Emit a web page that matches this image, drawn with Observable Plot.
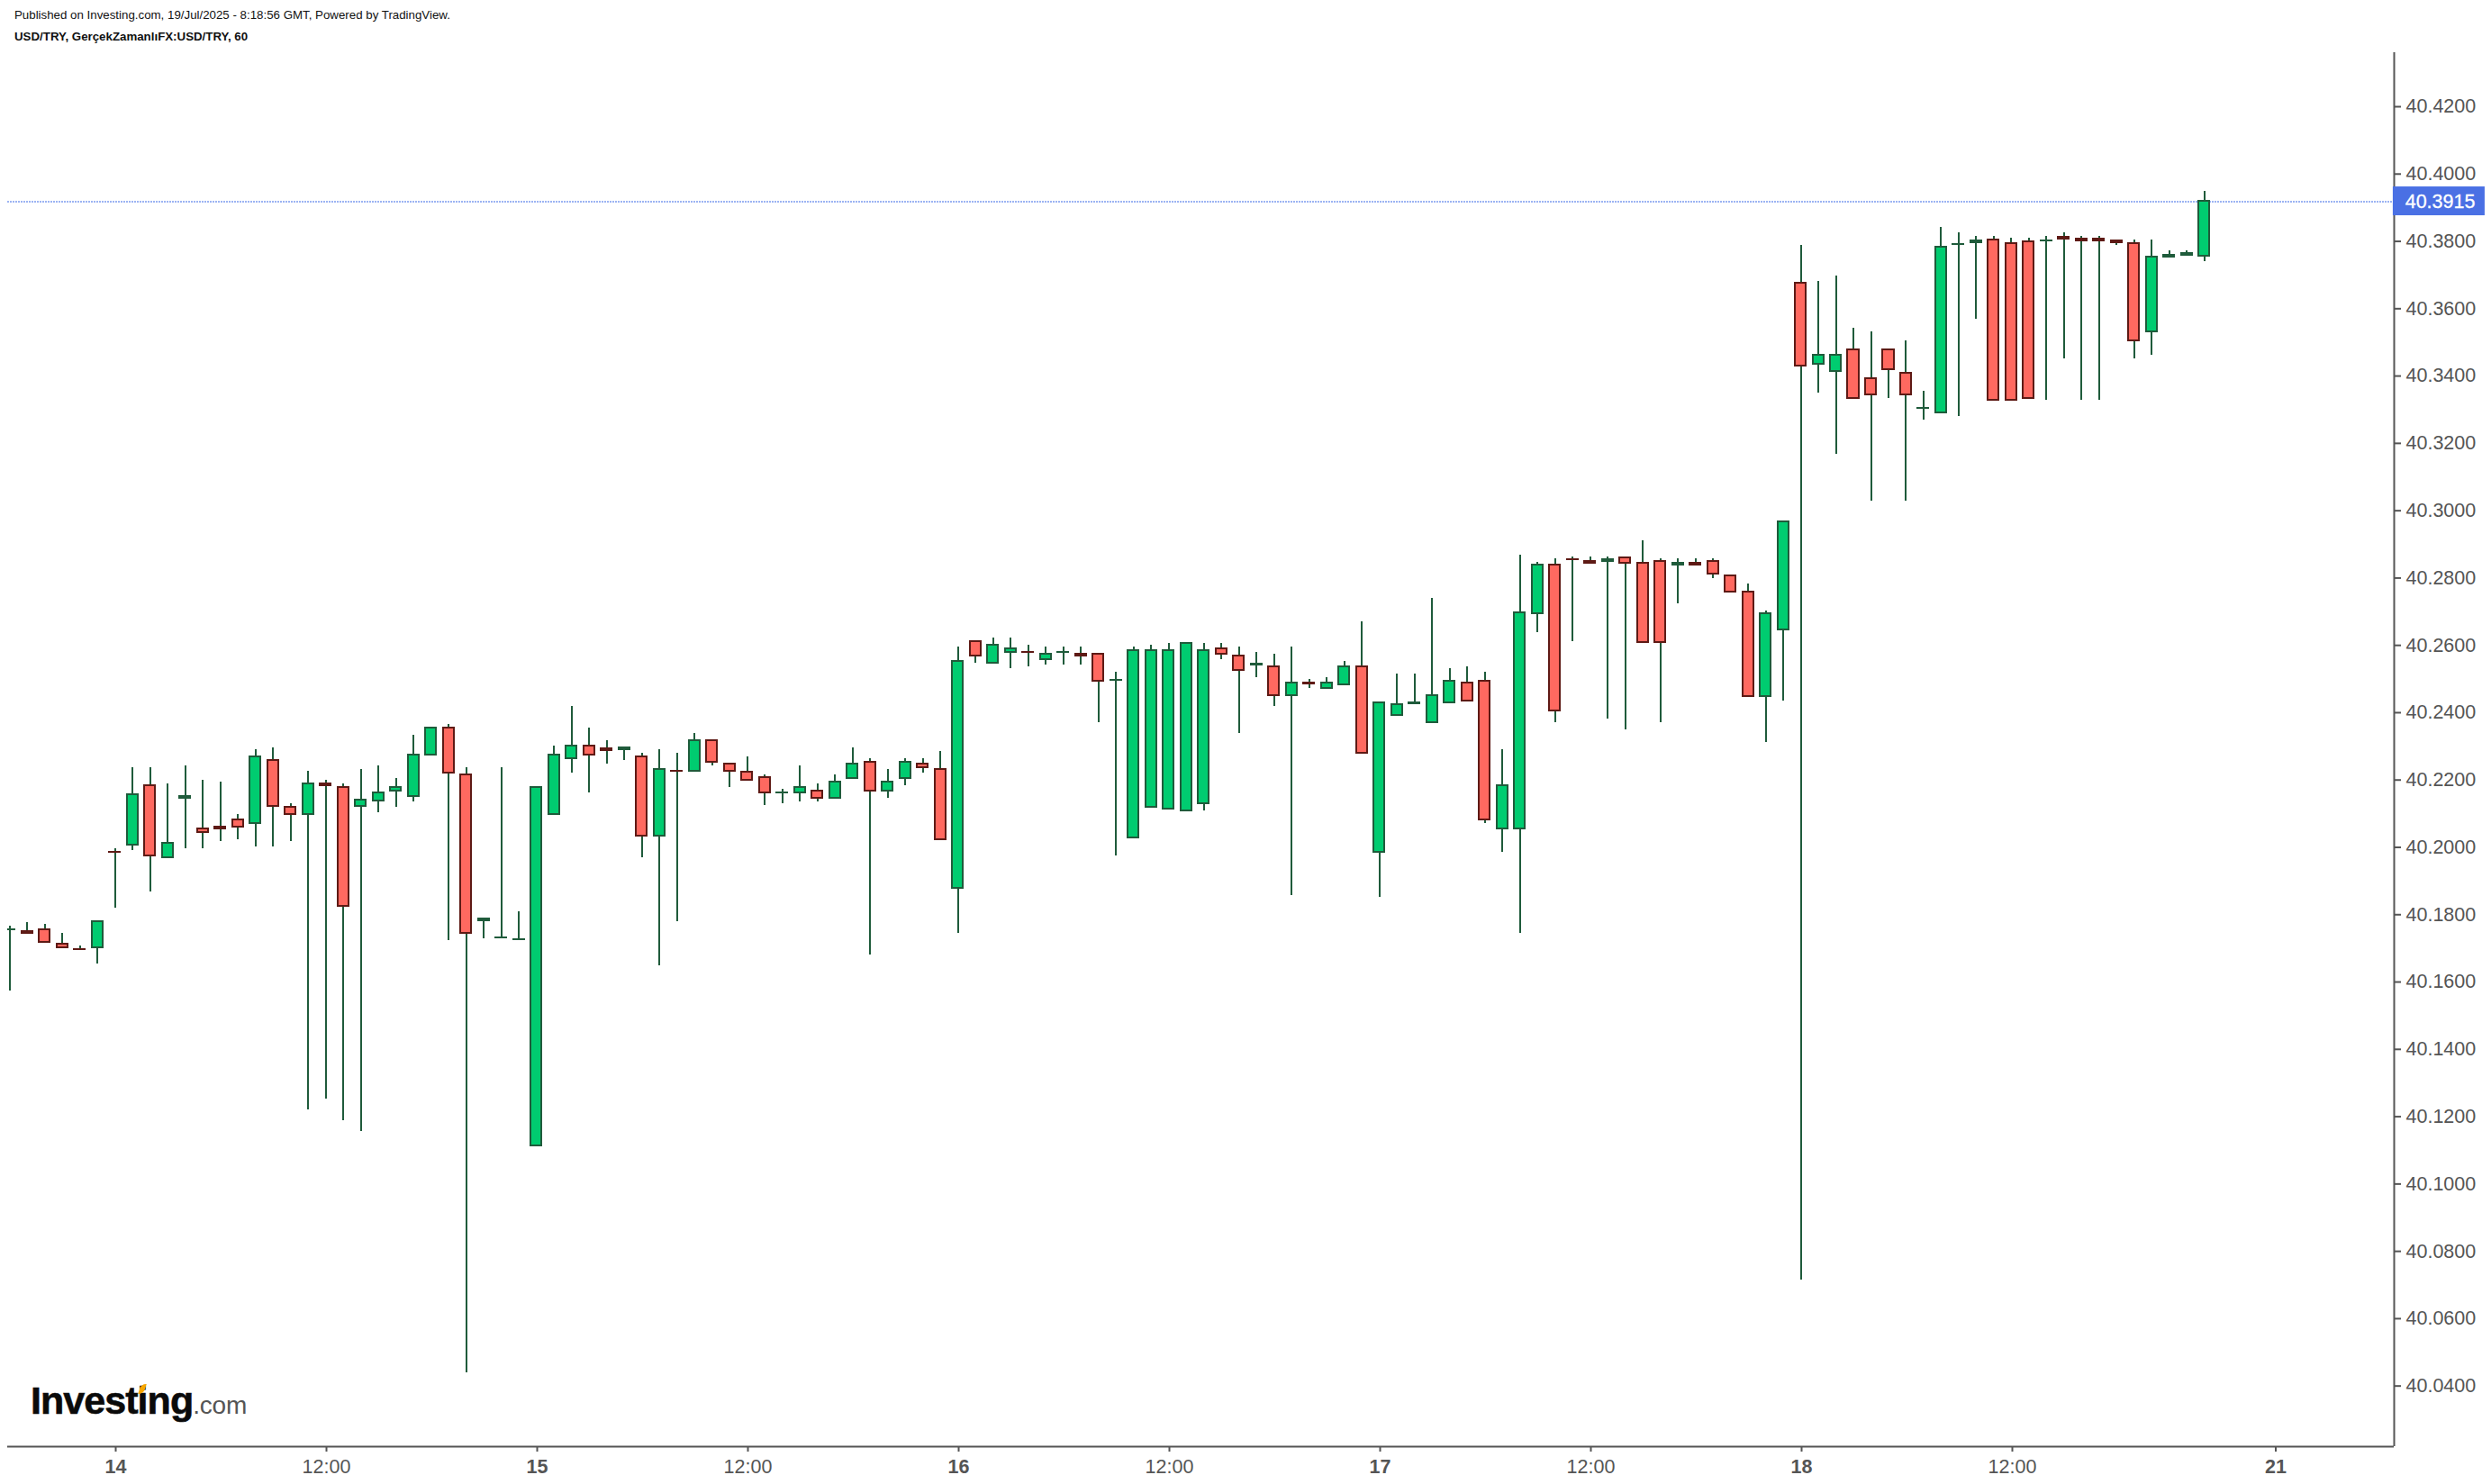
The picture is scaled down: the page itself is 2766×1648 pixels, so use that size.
<!DOCTYPE html>
<html>
<head>
<meta charset="utf-8">
<script src="https://cdn.jsdelivr.net/npm/d3@7"></script>
<script src="https://cdn.jsdelivr.net/npm/@observablehq/plot@0.6"></script>
<style>
  html, body { margin: 0; padding: 0; background: #fff; }
  #wrap { position: relative; width: 2766px; height: 1648px; overflow: hidden; font-family: "Liberation Sans", Arial, sans-serif; }
  #wrap svg { display: block; }
  .hd { position: absolute; left: 16px; color: #111; white-space: nowrap; font-size: 13.3px; line-height: 16px; }
  #logo { position: absolute; left: 34px; top: 1530px; white-space: nowrap; line-height: 50px; color: #0a0a0a; }
  #logo b { font-size: 43px; letter-spacing: -0.95px; -webkit-text-stroke: 0.6px #0a0a0a; }
  #logo span { font-size: 28px; color: #555; letter-spacing: -0.2px; }
  #leaf { position: absolute; left: 155px; top: 1537px; width: 6px; height: 11px; background: #f7a600; border-radius: 5px 0 5px 0; transform: skewX(-18deg); }
</style>
</head>
<body>
<div id="wrap">
  <div class="hd" style="top:9px">Published on Investing.com, 19/Jul/2025 - 8:18:56 GMT, Powered by TradingView.</div>
  <div class="hd" style="top:33px;font-weight:bold">USD/TRY, GerçekZamanlıFX:USD/TRY, 60</div>
  <div id="logo"><b>Investing</b><span>.com</span></div>
  <div id="leaf"></div>
</div>
<script>
// Hourly candles, hour 0 = the 14th 00:00
const firstHour = -6;
const opens = [
  40.1750,40.1747,40.1752,40.1709,40.1693,40.1697,40.1982,40.2002,40.2180,40.1964,
  40.2141,40.2052,40.2057,40.2078,40.2066,40.2255,40.2116,40.2093,40.2185,40.2175,
  40.2119,40.2135,40.2162,40.2146,40.2269,40.2351,40.2212,40.1777,40.1726,40.1722,
  40.1109,40.2093,40.2259,40.2298,40.2289,40.2285,40.2266,40.2029,40.2223,40.2221,
  40.2314,40.2244,40.2218,40.2202,40.2157,40.2157,40.2164,40.2141,40.2200,40.2250,
  40.2162,40.2200,40.2244,40.2228,40.1873,40.2608,40.2542,40.2574,40.2576,40.2553,
  40.2574,40.2571,40.2571,40.2492,40.2023,40.2114,40.2109,40.2103,40.2125,40.2587,
  40.2565,40.2537,40.2533,40.2446,40.2483,40.2467,40.2478,40.2533,40.1980,40.2387,
  40.2423,40.2366,40.2424,40.2485,40.2490,40.2050,40.2050,40.2690,40.2834,40.2851,
  40.2845,40.2845,40.2856,40.2840,40.2845,40.2834,40.2840,40.2845,40.2802,40.2754,
  40.2444,40.2642,40.3673,40.3430,40.3409,40.3475,40.3389,40.3475,40.3405,40.3299,
  40.3286,40.3786,40.3792,40.3801,40.3790,40.3796,40.3797,40.3808,40.3803,40.3803,
  40.3797,40.3790,40.3526,40.3749,40.3755,40.3751
];
const highs = [
  40.1761,40.1772,40.1767,40.1741,40.1703,40.1774,40.1992,40.2233,40.2233,40.2185,
  40.2238,40.2195,40.2190,40.2094,40.2286,40.2292,40.2126,40.2222,40.2195,40.2185,
  40.2227,40.2238,40.2201,40.2329,40.2351,40.2361,40.2233,40.1784,40.2233,40.1805,
  40.2175,40.2297,40.2415,40.2350,40.2313,40.2292,40.2276,40.2286,40.2276,40.2334,
  40.2314,40.2244,40.2265,40.2211,40.2169,40.2238,40.2185,40.2211,40.2292,40.2260,
  40.2227,40.2260,40.2260,40.2281,40.2591,40.2608,40.2618,40.2618,40.2597,40.2591,
  40.2591,40.2591,40.2571,40.2516,40.2591,40.2597,40.2602,40.2603,40.2602,40.2602,
  40.2591,40.2575,40.2570,40.2591,40.2495,40.2500,40.2548,40.2666,40.2426,40.2511,
  40.2511,40.2736,40.2527,40.2532,40.2516,40.2286,40.2864,40.2843,40.2853,40.2859,
  40.2859,40.2859,40.2856,40.2907,40.2853,40.2853,40.2853,40.2853,40.2802,40.2778,
  40.2698,40.2963,40.3784,40.3677,40.3693,40.3538,40.3527,40.3475,40.3501,40.3351,
  40.3838,40.3822,40.3811,40.3811,40.3806,40.3806,40.3811,40.3822,40.3811,40.3811,
  40.3797,40.3800,40.3800,40.3768,40.3768,40.3945
];
const lows = [
  40.1569,40.1740,40.1713,40.1697,40.1692,40.1650,40.1816,40.1987,40.1864,40.1964,
  40.1992,40.1992,40.2013,40.2019,40.1997,40.1997,40.2013,40.1216,40.1248,40.1184,
  40.1152,40.2099,40.2115,40.2131,40.2269,40.1719,40.0435,40.1725,40.1726,40.1722,
  40.1109,40.2093,40.2217,40.2158,40.2243,40.2254,40.1965,40.1645,40.1774,40.2221,
  40.2238,40.2174,40.2194,40.2120,40.2126,40.2131,40.2131,40.2141,40.2200,40.1677,
  40.2142,40.2179,40.2217,40.2018,40.1741,40.2543,40.2542,40.2527,40.2532,40.2538,
  40.2538,40.2538,40.2367,40.1971,40.2023,40.2114,40.2109,40.2103,40.2104,40.2554,
  40.2334,40.2500,40.2415,40.1853,40.2468,40.2467,40.2478,40.2275,40.1848,40.2387,
  40.2423,40.2366,40.2424,40.2430,40.2067,40.1981,40.1741,40.2634,40.2366,40.2607,
  40.2840,40.2377,40.2345,40.2605,40.2366,40.2720,40.2834,40.2794,40.2754,40.2444,
  40.2308,40.2431,40.0710,40.3345,40.3164,40.3329,40.3025,40.3329,40.3025,40.3265,
  40.3286,40.3276,40.3565,40.3323,40.3323,40.3329,40.3324,40.3447,40.3324,40.3324,
  40.3784,40.3447,40.3458,40.3749,40.3755,40.3736
];
const closes = [
  40.1752,40.1740,40.1713,40.1697,40.1692,40.1774,40.1980,40.2153,40.1970,40.2009,
  40.2148,40.2039,40.2050,40.2055,40.2266,40.2119,40.2093,40.2185,40.2178,40.1820,
  40.2137,40.2159,40.2175,40.2271,40.2351,40.2216,40.1740,40.1784,40.1727,40.1723,
  40.2175,40.2271,40.2298,40.2269,40.2284,40.2292,40.2029,40.2228,40.2221,40.2314,
  40.2248,40.2221,40.2194,40.2157,40.2159,40.2175,40.2141,40.2191,40.2244,40.2162,
  40.2191,40.2250,40.2232,40.2018,40.2549,40.2564,40.2597,40.2587,40.2574,40.2571,
  40.2576,40.2564,40.2489,40.2493,40.2581,40.2581,40.2581,40.2603,40.2581,40.2569,
  40.2521,40.2539,40.2446,40.2485,40.2481,40.2485,40.2533,40.2275,40.2426,40.2421,
  40.2424,40.2448,40.2490,40.2430,40.2077,40.2180,40.2694,40.2834,40.2401,40.2850,
  40.2840,40.2851,40.2840,40.2605,40.2605,40.2840,40.2834,40.2808,40.2754,40.2444,
  40.2690,40.2963,40.3425,40.3459,40.3459,40.3329,40.3339,40.3414,40.3339,40.3300,
  40.3780,40.3787,40.3797,40.3323,40.3323,40.3329,40.3798,40.3803,40.3797,40.3797,
  40.3792,40.3500,40.3748,40.3755,40.3760,40.3915
];
const dateTicks = [0, 24, 48, 72, 96, 123];
const dateLabels = ["14", "15", "16", "17", "18", "21"];
const noonTicks = [12, 36, 60, 84, 108];
const noonLabel = "12:00";
const priceTicks = [40.04,40.06,40.08,40.10,40.12,40.14,40.16,40.18,40.20,40.22,40.24,40.26,40.28,40.30,40.32,40.34,40.36,40.38,40.40,40.42];
const lastPrice = 40.3915;

const upFill = "#00CC70", upLine = "#1F5B3B";
const downFill = "#FF6960", downLine = "#5E1A15";
const wickColor = "#1F5B3B", axisColor = "#555555";

const candles = opens.map((o, k) => ({hour: firstHour + k, o, h: highs[k], l: lows[k], c: closes[k]}));
const up = candles.filter(d => d.c >= d.o);
const down = candles.filter(d => d.c < d.o);

const xLeft = -6.103, xRight = 129.795, yLow = 40.02159, yHigh = 40.43565;
const halfBody = 0.3077;
const body = (data, fill, stroke) => Plot.rect(data, {
  x1: d => d.hour - halfBody, x2: d => d.hour + halfBody,
  y1: d => Math.min(d.o, d.c), y2: d => Math.max(d.o, d.c),
  fill, stroke, strokeWidth: 2, clip: true, shapeRendering: "crispEdges"
});

const chart = Plot.plot({
  width: 2766, height: 1648,
  marginTop: 58, marginBottom: 42, marginLeft: 8, marginRight: 108,
  style: {fontFamily: "'Liberation Sans', Arial, sans-serif", background: "transparent", overflow: "visible"},
  x: {type: "linear", domain: [xLeft, xRight]},
  y: {type: "linear", domain: [yLow, yHigh]},
  marks: [
    Plot.ruleY([lastPrice], {x1: xLeft, x2: xRight + 0.3, stroke: "#9DB4F3", strokeWidth: 2, strokeDasharray: "2 1", shapeRendering: "crispEdges"}),
    Plot.ruleX(candles, {x: "hour", y1: "l", y2: "h", stroke: wickColor, strokeWidth: 2, clip: true, shapeRendering: "crispEdges"}),
    body(up, upFill, upLine),
    body(down, downFill, downLine),
    Plot.ruleX([xRight], {stroke: axisColor, strokeWidth: 2}),
    Plot.ruleY([yLow], {stroke: axisColor, strokeWidth: 2}),
    Plot.axisY({ticks: priceTicks, anchor: "right", tickSize: 7, tickPadding: 6, label: null, color: axisColor,
      fontSize: 21.5, strokeWidth: 2, dy: 1.5, tickFormat: d3.format(".4f")}),
    Plot.axisX({ticks: dateTicks, anchor: "bottom", tickSize: 6, tickPadding: 8, label: null, color: axisColor,
      fontSize: 21.5, fontWeight: "bold", strokeWidth: 2, dx: 1, tickFormat: d => dateLabels[dateTicks.indexOf(d)]}),
    Plot.axisX({ticks: noonTicks, anchor: "bottom", tickSize: 6, tickPadding: 8, label: null, color: axisColor,
      fontSize: 21.5, strokeWidth: 2, dx: 1, tickFormat: () => noonLabel}),
    Plot.rect([lastPrice], {x1: 129.74, x2: 134.97, y1: d => d - 0.00428, y2: d => d + 0.00428, fill: "#4A70E4"}),
    Plot.text([lastPrice], {x: 130.42, y: d => d, text: d => d.toFixed(4), fill: "white", fontSize: 21.5, textAnchor: "start", dy: 1, stroke: "white", strokeWidth: 0.3})
  ]
});
document.getElementById("wrap").prepend(chart);
</script>
</body>
</html>
